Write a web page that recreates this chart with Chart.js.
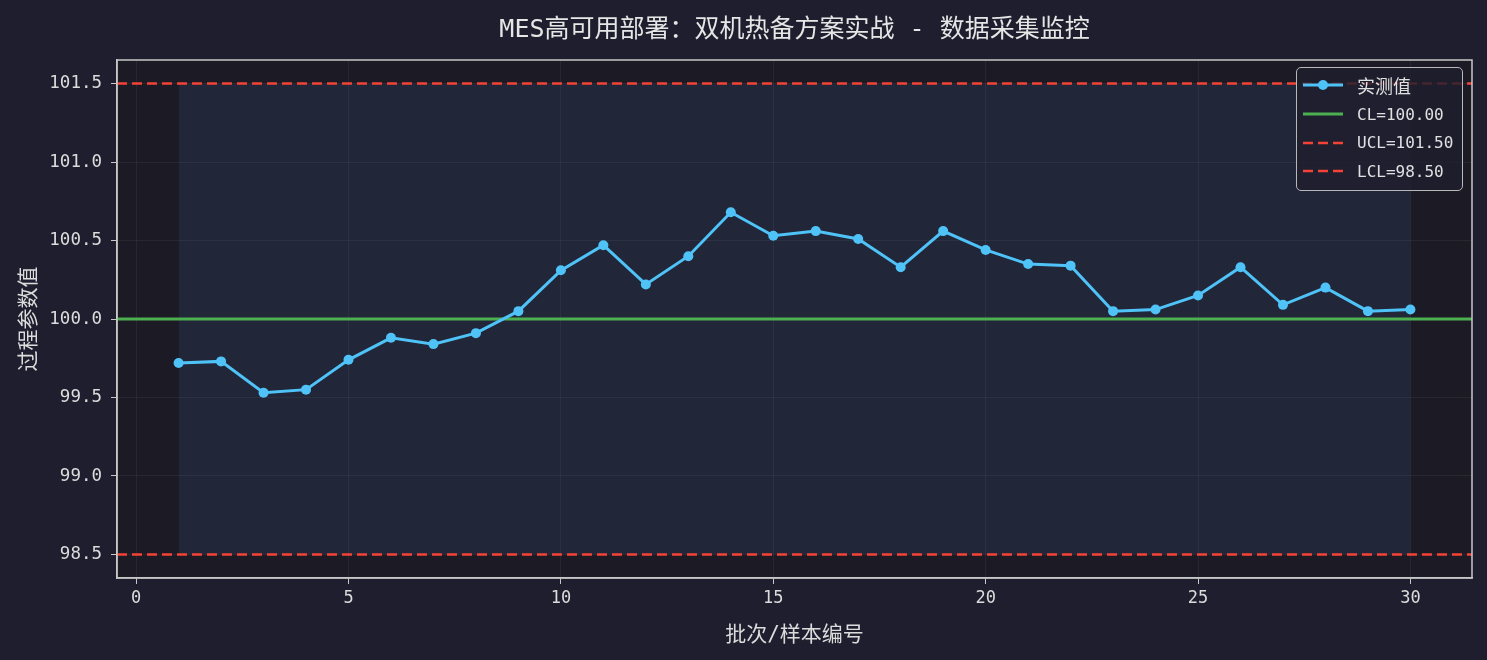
<!DOCTYPE html>
<html>
<head>
<meta charset="utf-8">
<script src="https://cdn.jsdelivr.net/npm/chart.js@4.4.1/dist/chart.umd.min.js"></script>
<style>
    html, body { margin: 0; padding: 0; background: #1e1e2e; }
    #wrap { position: relative; width: 1487px; height: 660px; }
    #legend {
        position: absolute; left: 1296px; top: 67px; width: 167px;
        box-sizing: border-box; padding: 3px 0 4px 0;
        background: rgba(30, 30, 46, 0.82);
        border: 1.5px solid #b8b8b8; border-radius: 5px;
        font-family: "DejaVu Sans Mono", "Noto Sans CJK SC", monospace;
        font-size: 16px; color: #e0e0e0;
    }
    .row { height: 28.7px; display: flex; align-items: center; }
    .row svg { margin-left: 5px; margin-right: 13px; }
    .row .cjk { font-size: 18px; }
</style>
</head>
<body>
<div id="wrap">
    <canvas id="spc-chart" width="1487" height="660"></canvas>
    <div id="legend"></div>
</div>
<script>
// sample numbers and measured values
const samples = [1, 2, 3, 4, 5, 6, 7, 8, 9, 10, 11, 12, 13, 14, 15,
    16, 17, 18, 19, 20, 21, 22, 23, 24, 25, 26, 27, 28, 29, 30];
const measured = [99.72, 99.73, 99.53, 99.55, 99.74, 99.88, 99.84, 99.91, 100.05, 100.31,
    100.47, 100.22, 100.40, 100.68, 100.53, 100.56, 100.51, 100.33, 100.56, 100.44,
    100.35, 100.34, 100.05, 100.06, 100.15, 100.33, 100.09, 100.20, 100.05, 100.06];

// control limits
const CL = 100.0;
const UCL = 101.5;
const LCL = 98.5;

// axis ranges and ticks
const xLimits = [-0.45, 31.45];
const yLimits = [98.35, 101.65];
const xTicks = [0, 5, 10, 15, 20, 25, 30];
const yTicks = [98.5, 99.0, 99.5, 100.0, 100.5, 101.0, 101.5];

const FONT = '"DejaVu Sans Mono", "Noto Sans CJK SC", monospace';
const TEXT = "#dcdcdc";

const hline = (y) => xLimits.map((x) => ({ x: x, y: y }));

// plot face + frame
const frame = {
    id: "frame",
    beforeDraw(chart) {
        const { ctx, chartArea: a } = chart;
        ctx.save();
        ctx.fillStyle = "#1e1e2e";
        ctx.fillRect(0, 0, chart.width, chart.height);
        ctx.fillStyle = "#1c1b25";
        ctx.fillRect(a.left, a.top, a.right - a.left, a.bottom - a.top);
        ctx.restore();
    },
    afterDraw(chart) {
        const { ctx, chartArea: a } = chart;
        ctx.save();
        ctx.strokeStyle = "#c8c8c8";
        ctx.lineWidth = 1.5;
        ctx.strokeRect(a.left, a.top, a.right - a.left, a.bottom - a.top);
        ctx.restore();
    },
};

const axisStyle = (ticks) => ({
    type: "linear",
    afterBuildTicks: (scale) => {
        scale.ticks = ticks.map((v) => ({ value: v }));
    },
    grid: {
        color: "rgba(255,255,255,0.055)",
        tickColor: "#c8c8c8",
        tickLength: 6,
        lineWidth: 1,
    },
    border: { color: "#c8c8c8", width: 1.5 },
});

const xAxis = axisStyle(xTicks);
Object.assign(xAxis, {
    min: xLimits[0],
    max: xLimits[1],
    ticks: { color: TEXT, font: { family: FONT, size: 17 }, padding: 4, maxRotation: 0 },
    title: { display: true, text: "批次/样本编号", color: TEXT, font: { family: FONT, size: 21 }, padding: { top: 0, bottom: 12 } },
    afterFit: (scale) => { scale.height = 82; },
});

const yAxis = axisStyle(yTicks);
Object.assign(yAxis, {
    min: yLimits[0],
    max: yLimits[1],
    ticks: { color: TEXT, font: { family: FONT, size: 17.5 }, padding: 9, callback: (v) => v.toFixed(1) },
    title: { display: true, text: "过程参数值", color: TEXT, font: { family: FONT, size: 21 }, padding: { top: 17, bottom: 0 } },
    afterFit: (scale) => { scale.width = 117; },
});

const ctx = document.getElementById("spc-chart").getContext("2d");
const chart = new Chart(ctx, {
    type: "line",
    data: {
        datasets: [
            {
                label: "实测值",
                data: samples.map((x, i) => ({ x: x, y: measured[i] })),
                borderColor: "#4fc3f7",
                backgroundColor: "#4fc3f7",
                borderWidth: 3,
                pointRadius: 5,
                pointBorderWidth: 0,
                tension: 0,
            },
            {
                label: "CL=" + CL.toFixed(2),
                data: hline(CL),
                borderColor: "#4caf50",
                borderWidth: 3,
                pointRadius: 0,
            },
            {
                label: "UCL=" + UCL.toFixed(2),
                data: hline(UCL),
                borderColor: "#f44336",
                borderWidth: 2.5,
                borderDash: [10, 5],
                pointRadius: 0,
            },
            {
                label: "LCL=" + LCL.toFixed(2),
                data: hline(LCL),
                borderColor: "#f44336",
                borderWidth: 2.5,
                borderDash: [10, 5],
                pointRadius: 0,
            },
            {
                band: true,
                data: samples.map((x) => ({ x: x, y: UCL })),
                borderWidth: 0,
                borderColor: "rgba(0,0,0,0)",
                pointRadius: 0,
                fill: "+1",
                backgroundColor: "rgba(78,127,227,0.11)",
            },
            {
                band: true,
                data: samples.map((x) => ({ x: x, y: LCL })),
                borderWidth: 0,
                borderColor: "rgba(0,0,0,0)",
                pointRadius: 0,
            },
        ],
    },
    options: {
        responsive: false,
        devicePixelRatio: 1,
        animation: false,
        layout: { padding: { left: 0, right: 15, top: 0, bottom: 0 } },
        scales: { x: xAxis, y: yAxis },
        plugins: {
            legend: { display: false },
            tooltip: { enabled: false },
            title: {
                display: true,
                fullSize: false,
                text: "MES高可用部署：双机热备方案实战 - 数据采集监控",
                color: "#e6e6e6",
                font: { family: FONT, size: 25, weight: "normal" },
                padding: { top: 15, bottom: 15 },
            },
        },
    },
    plugins: [frame],
});

// legend as html, built from the datasets
const legendEl = document.getElementById("legend");
chart.data.datasets.filter((d) => !d.band).forEach((d) => {
    const row = document.createElement("div");
    row.className = "row";
    const dash = d.borderDash ? d.borderDash.join(",") : "none";
    const marker = d.pointRadius ? '<circle cx="21" cy="6" r="5" fill="' + d.borderColor + '"/>' : "";
    const cls = /[\u4e00-\u9fff]/.test(d.label) ? "cjk" : "";
    row.innerHTML =
        '<svg width="42" height="12"><line x1="1" y1="6" x2="41" y2="6" stroke="' + d.borderColor +
        '" stroke-width="' + d.borderWidth + '" stroke-dasharray="' + dash + '"/>' + marker + "</svg>" +
        '<span class="' + cls + '">' + d.label + "</span>";
    legendEl.appendChild(row);
});
</script>
</body>
</html>
